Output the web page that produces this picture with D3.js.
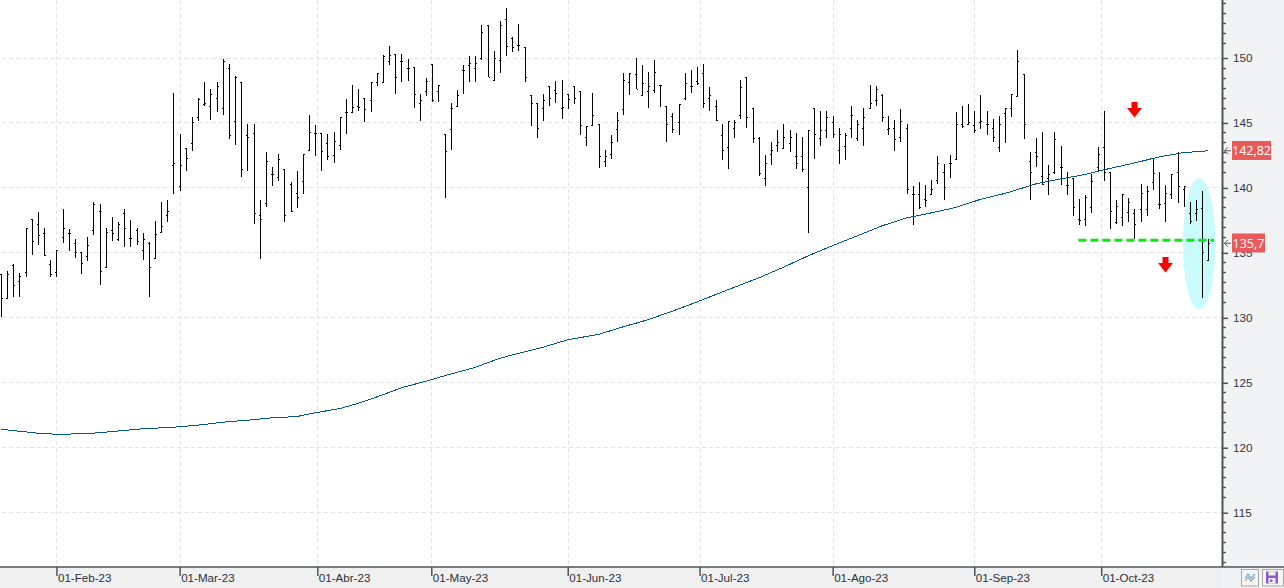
<!DOCTYPE html>
<html>
<head>
<meta charset="utf-8">
<script src="https://cdnjs.cloudflare.com/ajax/libs/d3/7.8.5/d3.min.js"></script>
<style>
  html, body { margin: 0; padding: 0; background: #fff; overflow: hidden; }
  svg { display: block; font-family: "Open Sans", "Noto Sans", sans-serif; }
  .grid line { stroke: #e2e2e2; stroke-dasharray: 4 3; shape-rendering: crispEdges; }
  .bar line { stroke: #000; shape-rendering: crispEdges; }
</style>
</head>
<body>
<svg id="chart" width="1284" height="588"></svg>
<script>
const highs = [
  133.3,133.6,134.1,133.4,136.9,137.6,138.1,136.9,134.4,135.2,
  138.3,136.8,136.0,135.0,136.2,138.9,138.7,136.9,137.7,137.3,
  138.3,137.5,136.9,136.5,135.8,137.4,138.9,139.0,147.3,144.1,
  143.0,145.4,146.9,148.1,147.6,148.1,149.9,149.5,148.6,148.1,
  144.9,144.9,139.0,142.7,141.6,142.6,141.4,140.4,141.3,142.6,
  145.6,144.8,144.2,144.1,144.3,145.4,146.8,147.9,147.6,146.9,
  148.1,148.8,150.2,150.9,150.3,150.3,149.9,149.3,147.2,148.4,
  149.5,147.9,144.1,146.5,147.5,149.4,150.1,150.1,152.5,152.5,
  150.5,152.8,153.8,151.6,152.6,150.8,147.1,146.5,147.2,147.8,
  148.2,148.3,147.2,147.8,147.4,144.7,147.3,144.9,142.9,144.0,
  145.8,148.8,148.8,150.0,149.4,148.9,149.8,147.9,146.3,145.7,
  146.4,148.8,149.0,149.3,149.5,147.7,146.7,144.9,145.1,145.2,
  148.3,148.5,146.1,143.9,142.5,143.5,144.4,144.9,144.4,144.2,
  143.9,144.4,146.1,145.9,145.9,145.5,144.6,144.2,146.3,145.2,
  146.1,147.9,147.8,147.2,145.5,145.2,146.0,144.9,140.1,140.4,
  140.2,140.6,142.4,141.8,142.5,145.8,146.3,146.4,145.9,147.1,
  145.9,145.3,145.5,146.1,147.2,150.6,148.7,142.7,143.8,144.3,
  141.7,144.3,143.2,141.2,140.7,139.1,139.4,141.0,143.1,145.9,
  141.2,139.0,139.5,139.2,138.3,140.3,140.1,142.2,141.2,140.2,
  141.0,142.7,140.1,138.9,139.0,139.7,136.0
];
const lows = [
  130.0,131.5,131.6,131.6,133.1,134.8,135.6,134.7,133.1,133.1,
  135.7,135.1,134.6,133.3,134.3,136.3,132.5,133.9,135.9,135.9,
  135.4,135.4,135.6,134.4,131.6,134.5,136.6,137.3,139.5,139.7,
  141.3,142.8,145.1,146.3,145.2,145.8,145.6,143.7,143.3,140.8,
  141.3,137.2,134.5,138.5,140.1,140.5,137.3,138.1,138.4,139.5,
  142.8,142.4,141.3,142.1,141.9,142.9,144.1,145.8,145.9,145.0,
  145.8,147.8,148.1,149.4,147.2,148.1,148.2,146.1,145.1,147.0,
  146.6,146.6,139.2,142.9,146.2,147.2,148.1,148.1,149.8,148.5,
  148.2,148.8,150.1,150.4,150.5,148.1,144.7,143.8,145.1,146.3,
  146.5,145.3,146.0,146.4,144.0,143.2,144.8,141.5,141.6,142.2,
  143.5,145.6,147.1,147.6,147.1,146.1,147.3,146.2,143.5,144.2,
  144.0,146.7,147.3,147.9,146.1,145.9,145.1,142.1,141.4,143.8,
  145.3,144.6,143.4,140.9,140.1,141.7,142.7,143.0,142.7,141.4,
  141.2,136.5,142.2,143.2,143.8,143.8,141.8,142.1,143.8,143.6,
  143.2,146.1,146.3,145.0,144.0,142.8,143.5,139.5,137.1,138.3,
  138.5,139.4,140.3,139.0,140.7,142.1,144.6,144.9,144.2,144.5,
  144.0,143.5,142.7,143.4,145.4,147.0,143.7,139.0,141.6,140.2,
  139.4,141.0,140.2,139.4,137.8,137.1,137.0,138.0,141.2,140.5,
  136.8,137.2,137.0,137.3,136.0,137.3,137.8,139.8,138.3,137.3,
  139.1,138.8,138.5,137.2,137.4,131.5,134.3
];
const opens = [
  133.3,131.5,134.0,132.8,133.5,137.6,137.2,136.5,134.1,133.5,
  136.2,136.5,135.7,135.0,134.7,136.7,138.2,133.9,136.7,136.0,
  138.0,136.1,136.7,135.2,135.7,134.6,136.6,137.9,141.7,140.1,
  143.0,143.4,145.4,146.4,146.3,146.9,146.1,149.2,145.1,148.1,
  144.0,144.2,137.9,138.8,141.0,140.8,141.4,140.3,139.6,140.5,
  142.9,144.2,144.2,143.4,142.5,143.3,145.8,145.8,146.3,146.9,
  146.7,148.1,148.1,149.7,150.3,149.7,149.2,149.3,146.5,147.4,
  149.5,147.4,144.1,144.5,146.3,149.0,149.4,149.2,150.0,152.5,
  148.3,149.8,153.0,151.5,151.0,150.8,147.1,146.5,146.1,147.8,
  147.5,146.1,147.2,147.8,147.4,143.9,144.8,144.9,142.0,142.6,
  144.5,146.0,148.1,148.7,147.1,147.4,147.5,147.9,146.3,145.5,
  145.0,146.9,147.8,148.2,148.8,146.9,146.3,144.0,143.1,144.6,
  145.6,148.5,146.1,143.8,140.7,142.6,143.3,143.0,143.4,142.4,
  142.4,140.0,146.1,143.8,144.4,145.0,142.9,143.2,144.6,143.8,
  144.6,146.1,146.7,147.1,144.5,144.6,143.9,144.6,139.5,139.5,
  139.1,139.5,140.6,141.2,141.9,142.2,144.9,144.9,144.8,145.0,
  144.9,144.6,143.1,145.7,146.1,147.0,148.7,142.0,142.7,140.9,
  140.7,141.2,141.6,140.2,140.7,137.6,137.6,138.5,141.6,143.1,
  141.2,137.3,137.7,138.1,138.0,138.3,138.3,140.4,138.7,138.8,
  139.5,141.2,139.9,138.0,138.0,138.4,134.4
];
const closes = [
  131.5,133.3,132.5,133.2,136.9,135.9,136.3,134.8,133.3,135.2,
  136.9,136.5,135.0,134.2,135.6,138.7,133.6,136.6,136.5,137.2,
  136.9,136.1,135.9,136.0,133.9,136.4,137.0,138.2,141.9,141.7,
  142.3,145.0,146.8,146.5,147.2,147.8,149.7,144.0,148.5,141.4,
  143.9,138.0,137.6,142.0,141.0,142.2,137.9,138.2,139.3,142.6,
  144.3,144.2,142.8,142.4,143.6,145.4,145.8,146.2,146.2,146.0,
  148.1,148.8,150.1,150.2,148.5,149.7,149.2,147.2,146.7,148.2,
  146.7,147.9,142.8,146.1,147.1,149.0,149.6,149.6,152.0,148.5,
  150.0,152.5,150.9,150.8,151.0,148.5,146.5,144.6,146.7,146.9,
  147.3,146.2,146.8,146.9,144.8,144.7,145.6,142.4,142.4,143.5,
  145.2,148.3,148.8,147.6,148.0,147.8,148.9,147.9,144.9,144.5,
  146.4,148.0,147.8,148.0,146.5,147.1,145.2,142.9,145.1,145.0,
  147.7,145.4,143.8,141.1,141.9,142.9,143.5,143.9,143.9,141.9,
  141.4,144.4,144.1,144.4,145.4,144.1,144.1,144.0,145.6,144.9,
  145.4,146.5,147.6,145.4,144.6,143.7,145.1,139.9,139.5,138.5,
  139.0,139.9,141.9,140.0,141.9,144.9,144.7,145.0,144.4,145.1,
  144.9,143.9,144.9,146.1,147.2,149.7,144.9,141.2,142.4,140.3,
  141.0,143.7,141.6,140.2,138.5,137.5,139.3,140.5,142.6,141.2,
  138.2,138.6,139.5,138.9,137.2,139.6,139.7,141.1,138.7,139.6,
  141.0,140.1,140.1,137.4,138.3,135.0,135.7
];

// moving average, read at every few bars
const maBars = [0,3,6,9,14,19,23,28,32,36,41,44,48,51,55,58,62,65,69,72,77,81,84,88,92,97,101,105,110,113,118,123,127,131,135,139,143,147,151,155,159,163,168,172,176,180,184,188,192,196];
const maValues = [121.39,121.23,121.08,121.0,121.04,121.25,121.42,121.54,121.7,121.93,122.12,122.27,122.36,122.65,122.98,123.38,124.04,124.58,125.08,125.5,126.15,126.85,127.23,127.7,128.27,128.69,129.27,129.81,130.65,131.19,132.12,133.04,133.85,134.73,135.52,136.27,137.04,137.65,138.04,138.46,139.08,139.54,140.27,140.65,141.0,141.46,141.88,142.35,142.68,142.82];

const monthBars = [9,29,51.35,69.85,92,113.4,135,158,178.6];
const monthLabels = ['01-Feb-23','01-Mar-23','01-Abr-23','01-May-23','01-Jun-23','01-Jul-23','01-Ago-23','01-Sep-23','01-Oct-23'];
const priceTicks = [115,120,125,130,135,140,145,150,155];
const lastPrices = [142.82,135.7];
const lastLabels = ['142,82','135,7'];
const arrowBars = [184,189];
const arrowTops = [146.58,134.65];

const WIDTH = 1284, HEIGHT = 588;
const PLOT_RIGHT = 1222, PLOT_BOTTOM = 567;
const DARK = '#505458', LABEL_RED = '#e95b5b';

const x = d3.scaleLinear().domain([0, 196]).range([1, 1208.4]);
const y = d3.scaleLinear().domain([150, 115]).range([57.5, 512.2]);
const px = (v) => Math.round(v) + 0.5;

const svg = d3.select('#chart');

// panels
svg.append('rect').attr('x', 0).attr('y', PLOT_BOTTOM).attr('width', WIDTH).attr('height', HEIGHT - PLOT_BOTTOM).attr('fill', '#f0f0f0');
svg.append('rect').attr('x', PLOT_RIGHT).attr('y', 0).attr('width', WIDTH - PLOT_RIGHT).attr('height', HEIGHT).attr('fill', '#f2f3f5');

// grid
const grid = svg.append('g').attr('class', 'grid');
grid.selectAll('line.h').data(priceTicks.filter((d) => d <= 150)).join('line')
  .attr('class', 'h')
  .attr('x1', 2).attr('x2', PLOT_RIGHT)
  .attr('y1', (d) => px(y(d))).attr('y2', (d) => px(y(d)));
grid.selectAll('line.v').data(monthBars).join('line')
  .attr('class', 'v')
  .attr('x1', (d) => px(x(d))).attr('x2', (d) => px(x(d)))
  .attr('y1', 0).attr('y2', PLOT_BOTTOM);

// highlight ellipse behind the bars
svg.append('ellipse')
  .attr('cx', x(194.5)).attr('cy', y(135.67))
  .attr('rx', 16.2).attr('ry', 65.5)
  .attr('fill', '#c9fbfd');

// OHLC bars
const bars = svg.append('g').attr('class', 'bar')
  .selectAll('g').data(d3.range(highs.length)).join('g');
bars.append('line')
  .attr('x1', (i) => px(x(i))).attr('x2', (i) => px(x(i)))
  .attr('y1', (i) => Math.round(y(highs[i]))).attr('y2', (i) => Math.round(y(lows[i])));
bars.append('line')
  .attr('x1', (i) => px(x(i)) - 1.5).attr('x2', (i) => px(x(i)))
  .attr('y1', (i) => px(y(opens[i]))).attr('y2', (i) => px(y(opens[i])));
bars.append('line')
  .attr('x1', (i) => px(x(i))).attr('x2', (i) => px(x(i)) + 1.5)
  .attr('y1', (i) => px(y(closes[i]))).attr('y2', (i) => px(y(closes[i])));

// moving average
svg.append('path')
  .attr('d', d3.line().x((d, i) => x(maBars[i])).y((d) => y(d))(maValues))
  .attr('fill', 'none')
  .attr('stroke', '#005a8c')
  .attr('stroke-width', 1)
  .attr('shape-rendering', 'crispEdges');

// support line
svg.append('line')
  .attr('x1', x(174.9)).attr('x2', x(196.9))
  .attr('y1', y(135.94)).attr('y2', y(135.94))
  .attr('stroke', '#0ce80c')
  .attr('stroke-width', 3)
  .attr('stroke-dasharray', '8 4');

// red arrows
const arrow = d3.line();
arrowBars.forEach((bar, i) => {
  const cx = Math.round(x(bar)) + 0.5, top = y(arrowTops[i]);
  svg.append('path')
    .attr('d', arrow([[cx - 3, top], [cx + 3, top], [cx + 3, top + 6], [cx + 7.5, top + 6], [cx, top + 15.5], [cx - 7.5, top + 6], [cx - 3, top + 6]]) + 'Z')
    .attr('fill', '#f00');
});

// price axis
const yAxis = d3.axisRight(y).tickValues(priceTicks.filter((d) => d <= 150)).tickSize(6).tickPadding(5).tickFormat(d3.format('d'));
const yG = svg.append('g').attr('transform', `translate(${PLOT_RIGHT},0.5)`).call(yAxis);
yG.select('.domain').remove();
yG.selectAll('.tick line').attr('stroke', DARK).attr('stroke-width', 1.5);
yG.selectAll('.tick text').attr('font-size', 11.7).attr('fill', '#33373d').attr('font-family', null);
priceTicks.forEach((major) => {
  [1, 2, 3, 4, 5].forEach((k) => {
    const yy = y(major) + k * 10;
    if (yy > PLOT_BOTTOM) return;
    svg.append('line').attr('x1', PLOT_RIGHT).attr('x2', PLOT_RIGHT + 4)
      .attr('y1', px(yy)).attr('y2', px(yy))
      .attr('stroke', DARK).attr('stroke-width', 1.5);
  });
});
svg.append('line').attr('x1', PLOT_RIGHT + 0.5).attr('x2', PLOT_RIGHT + 0.5).attr('y1', 0).attr('y2', PLOT_BOTTOM)
  .attr('stroke', DARK).attr('stroke-width', 2);

// date axis
const xAxis = d3.axisBottom(x).tickValues(monthBars).tickSize(9).tickFormat((d, i) => monthLabels[i]);
const xG = svg.append('g').attr('transform', `translate(0,${PLOT_BOTTOM})`).call(xAxis);
xG.select('.domain').remove();
xG.selectAll('.tick line').attr('stroke', DARK).attr('stroke-width', 1.5);
xG.selectAll('.tick text')
  .attr('text-anchor', 'start').attr('x', 1).attr('y', 7)
  .attr('font-size', 11.6).attr('fill', '#2b3040').attr('font-family', null);
svg.append('line').attr('x1', 0).attr('x2', WIDTH).attr('y1', PLOT_BOTTOM).attr('y2', PLOT_BOTTOM)
  .attr('stroke', DARK).attr('stroke-width', 1.5);

// last value labels
const labelWidths = [39, 33];
lastPrices.forEach((v, i) => {
  const yy = y(v);
  svg.append('path')
    .attr('d', `M${PLOT_RIGHT + 6},${yy - 3.5}L${PLOT_RIGHT + 2.5},${yy}L${PLOT_RIGHT + 6},${yy + 3.5}M${PLOT_RIGHT + 2.5},${yy}H${PLOT_RIGHT + 9}`)
    .attr('fill', 'none').attr('stroke', DARK);
  svg.append('rect').attr('x', 1232).attr('y', yy - 9.8).attr('width', labelWidths[i]).attr('height', 19).attr('fill', LABEL_RED);
  svg.append('text').attr('x', 1232 + labelWidths[i] / 2).attr('y', yy + 4.5)
    .attr('text-anchor', 'middle').attr('font-size', 12.5).attr('fill', '#fff').text(lastLabels[i]);
});

// toolbar buttons
const chartBtn = svg.append('g').attr('transform', 'translate(1241,569)');
chartBtn.append('rect').attr('x', 0.5).attr('y', 0.5).attr('width', 17).attr('height', 16.5).attr('fill', '#f4f4f4').attr('stroke', '#a9a9a9');
chartBtn.append('path').attr('d', 'M4,9L7,5L10,9L14,5').attr('fill', 'none').attr('stroke', '#6aaee0').attr('stroke-width', 1.2);
chartBtn.append('path').attr('d', 'M4,12L7,8L10,12L14,8').attr('fill', 'none').attr('stroke', '#9a9a9a').attr('stroke-width', 1.2);
const saveBtn = svg.append('g').attr('transform', 'translate(1262,569)');
saveBtn.append('rect').attr('x', 0.5).attr('y', 0.5).attr('width', 21).attr('height', 16.5).attr('fill', '#f4f4f4').attr('stroke', '#a9a9a9');
saveBtn.append('rect').attr('x', 4).attr('y', 2.5).attr('width', 12).attr('height', 12).attr('fill', '#8e5cc4');
saveBtn.append('rect').attr('x', 6.5).attr('y', 2.5).attr('width', 7).attr('height', 4).attr('fill', '#f4f4f4');
saveBtn.append('rect').attr('x', 6.5).attr('y', 9).attr('width', 7).attr('height', 5.5).attr('fill', '#f4f4f4');
saveBtn.append('rect').attr('x', 8).attr('y', 10.5).attr('width', 2.5).attr('height', 2.5).attr('fill', '#8e5cc4');
</script>
</body>
</html>
